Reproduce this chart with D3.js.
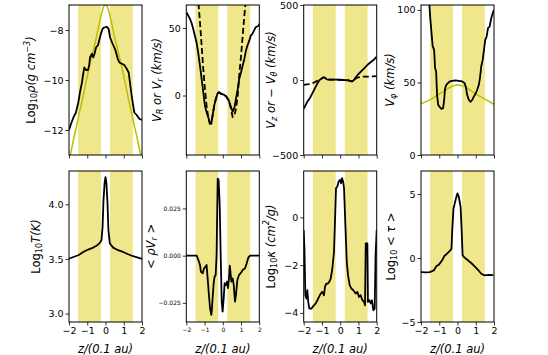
<!DOCTYPE html>
<html>
<head>
<meta charset="utf-8">
<script src="https://cdn.jsdelivr.net/npm/d3@7"></script>
<style>
  body { margin: 0; background: #fff; }
  svg { display: block; font-family: "DejaVu Sans", sans-serif; }
</style>
</head>
<body>
<div id="chart"></div>
<script>
// ---- data: [z in 0.1 au, value] ----
const zTicks = [-2, -1, 0, 1, 2];
const bands  = [[-1.5, -0.25], [0.25, 1.5]];

const rhoModel = [[-2.0,-13.25],[-1.9,-12.9],[-1.8,-12.55],[-1.7,-12.2],[-1.6,-11.9],[-1.5,-11.55],[-1.4,-11.2],
  [-1.3,-10.9],[-1.2,-10.55],[-1.1,-10.2],[-1.0,-9.85],[-0.9,-9.5],[-0.8,-9.2],[-0.7,-8.9],[-0.6,-8.6],[-0.5,-8.3],
  [-0.4,-7.95],[-0.3,-7.6],[-0.2,-7.3],[-0.1,-7.05],[0.0,-7.0],[0.1,-7.05],[0.2,-7.3],[0.3,-7.6],[0.4,-7.95],
  [0.5,-8.3],[0.6,-8.6],[0.7,-8.9],[0.8,-9.2],[0.9,-9.5],[1.0,-9.85],[1.1,-10.2],[1.2,-10.55],[1.3,-10.9],
  [1.4,-11.2],[1.5,-11.55],[1.6,-11.9],[1.7,-12.2],[1.8,-12.55],[1.9,-12.9],[2.0,-13.25]];
const rho = [[-2,-12.0],[-1.91,-11.8],[-1.76,-11.5],[-1.62,-11.3],[-1.49,-10.9],[-1.4,-10.5],[-1.29,-10.1],
  [-1.22,-9.75],[-1.16,-9.5],[-1.07,-9.6],[-0.96,-9.6],[-0.89,-9.4],[-0.85,-9.1],[-0.74,-8.95],[-0.67,-9.1],
  [-0.6,-8.95],[-0.52,-8.7],[-0.41,-8.6],[-0.34,-8.4],[-0.25,-8.15],[-0.16,-7.95],[-0.07,-7.9],[0.06,-7.87],
  [0.17,-7.95],[0.25,-8.3],[0.39,-8.55],[0.54,-8.8],[0.67,-9.15],[0.76,-9.3],[0.9,-9.35],[1.03,-9.4],
  [1.16,-9.55],[1.27,-9.7],[1.34,-10.1],[1.42,-10.55],[1.49,-10.9],[1.58,-11.3],[1.71,-11.4],[1.85,-11.55],[2.0,-11.6]];

const vR = [[-2,61.6],[-1.91,59.6],[-1.8,56.7],[-1.71,53.7],[-1.62,49.3],[-1.53,44.3],[-1.44,39.4],[-1.35,32],
  [-1.25,22],[-1.16,12.3],[-1.07,2.5],[-0.98,-7.4],[-0.89,-12.3],[-0.8,-16],[-0.71,-19.7],[-0.63,-21],
  [-0.56,-14.8],[-0.47,-7.4],[-0.38,-2.5],[-0.3,1.2],[-0.21,2.5],[-0.08,1.2],[0.04,0.7],[0.18,-0.5],
  [0.33,-3.7],[0.45,-8.6],[0.54,-11.8],[0.63,-9.4],[0.72,-2.5],[0.82,4.9],[0.9,12.3],[1.0,17.2],[1.09,22.2],
  [1.18,27.1],[1.27,33.3],[1.35,37],[1.45,40.6],[1.53,44.3],[1.62,45.6],[1.71,48],[1.8,50.5],[1.96,51.7],[2.0,53]];
const vr = [[-1.36,75],[-1.33,67.7],[-1.25,54],[-1.16,37],[-1.07,19.7],[-0.98,4.9],[-0.89,-7.4],[-0.8,-16],
  [-0.71,-21],[-0.62,-19.7],[-0.56,-14.8],[-0.47,-7.4],[-0.38,-2.5],[-0.3,1.2],[-0.21,2.5],[-0.08,1.2],
  [0.04,0.7],[0.18,-0.5],[0.33,-3.7],[0.45,-9.9],[0.54,-16],[0.63,-14.8],[0.72,-9.9],[0.82,0],[0.9,14.8],
  [1.0,29.6],[1.09,44.3],[1.18,59],[1.24,67.7],[1.27,75]];

const vz = [[-2,-193],[-1.82,-149],[-1.64,-116],[-1.45,-71],[-1.27,-27],[-1.13,0],[-1.0,11],[-0.91,18],
  [-0.82,13],[-0.73,4],[-0.55,2],[-0.18,2],[0.18,0],[0.45,-2],[0.64,-9],[0.73,-4],[0.82,13],[1.0,40],
  [1.27,73],[1.55,107],[1.82,133],[2.0,156]];
const vTheta = [[-2,-33],[-1.73,-27],[-1.45,-18],[-1.24,-4],[-1.09,2],[-1.0,11],[-0.91,18],[-0.82,13],
  [-0.73,4],[-0.55,2],[-0.18,2],[0.18,0],[0.45,-2],[0.64,-9],[0.73,-4],[0.85,10],[1.0,18],[1.2,22],
  [1.5,22],[1.8,24],[2.0,26]];

const vPhi = [[-1.56,110],[-1.54,103.4],[-1.49,94],[-1.43,85],[-1.36,75],[-1.28,72.5],[-1.23,60],[-1.17,57.6],
  [-1.12,41.5],[-1.06,34.6],[-0.97,33],[-0.88,31.7],[-0.79,32.3],[-0.73,38],[-0.68,46],[-0.61,48.4],
  [-0.53,49.5],[-0.42,50.7],[-0.29,51.1],[-0.11,51.4],[0.07,51.1],[0.26,50.7],[0.39,49.5],[0.46,46.8],
  [0.53,41.5],[0.62,38],[0.72,36.7],[0.81,38],[0.9,40.4],[0.99,42.2],[1.08,45],[1.17,48.4],[1.23,53],
  [1.3,61],[1.38,65.6],[1.45,72.5],[1.52,79.4],[1.6,81.7],[1.67,87.4],[1.76,88.5],[1.85,94.3],[1.96,98.9],[2.0,100]];
const vKep = [[-2,35.3],[-1.5,38],[-1.0,42],[-0.5,46],[-0.25,47.6],[0,48.4],[0.25,47.8],[0.5,46.5],
  [1.0,42],[1.5,38.5],[2.0,35]];

const logT = [[-2,3.503],[-1.76,3.518],[-1.49,3.534],[-1.22,3.564],[-0.95,3.586],[-0.67,3.604],[-0.45,3.626],
  [-0.31,3.647],[-0.22,3.672],[-0.16,3.794],[-0.11,4.04],[-0.05,4.193],[0,4.248],[0.05,4.193],[0.11,4.01],
  [0.16,3.764],[0.24,3.641],[0.42,3.604],[0.69,3.58],[0.96,3.564],[1.24,3.543],[1.51,3.525],[1.78,3.512],[2.0,3.5]];

const rhoVr = [[-2,0],[-1.43,0],[-1.34,-0.0023],[-1.25,-0.0049],[-1.2,-0.0085],[-1.1,-0.0093],[-1.03,-0.0067],
  [-0.94,-0.0058],[-0.89,-0.0049],[-0.83,-0.012],[-0.76,-0.0208],[-0.7,-0.0278],[-0.63,-0.0313],[-0.6,-0.0287],
  [-0.56,-0.0225],[-0.5,-0.0146],[-0.45,-0.0111],[-0.39,-0.0102],[-0.34,0.0004],[-0.28,0.0408],[-0.23,0.04],
  [-0.17,0.0268],[-0.12,0.0021],[-0.06,-0.0243],[-0.01,-0.0296],[0.05,-0.0225],[0.1,-0.0146],[0.17,-0.0155],
  [0.23,-0.0137],[0.28,-0.0172],[0.34,-0.012],[0.38,-0.0053],[0.41,-0.0076],[0.47,-0.0137],[0.54,-0.012],
  [0.6,-0.0155],[0.67,-0.0243],[0.72,-0.0208],[0.8,-0.0128],[0.89,-0.0102],[0.98,-0.0093],[1.09,-0.0076],
  [1.22,-0.0067],[1.31,-0.004],[1.4,-0.001],[1.49,0],[2,0]];

const logKappa = [[-2,-0.53],[-1.96,-1.3],[-1.91,-3.26],[-1.85,-3.4],[-1.8,-3.05],[-1.75,-3.54],[-1.69,-3.82],
  [-1.58,-3.82],[-1.44,-3.68],[-1.34,-3.6],[-1.25,-3.47],[-1.16,-3.33],[-1.07,-3.19],[-0.98,-3.12],[-0.89,-3.26],
  [-0.83,-2.9],[-0.76,-2.77],[-0.67,-2.77],[-0.6,-2.7],[-0.52,-2.56],[-0.43,-2.14],[-0.34,-1.44],[-0.28,-0.04],
  [-0.23,1.22],[-0.16,1.29],[-0.08,1.5],[-0.01,1.57],[0.05,1.43],[0.1,1.64],[0.16,1.5],[0.21,1.22],[0.27,-0.04],
  [0.36,-1.86],[0.43,-2.42],[0.52,-2.84],[0.61,-2.98],[0.72,-3.05],[0.85,-3.19],[0.94,-3.12],[1.03,-3.33],
  [1.12,-3.26],[1.22,-3.47],[1.31,-3.54],[1.36,-3.68],[1.4,-1.09],[1.49,-1.09],[1.52,-3.54],[1.6,-3.47],
  [1.67,-3.6],[1.74,-3.47],[1.82,-3.89],[1.89,-3.82],[1.94,-1.58],[2,-0.53]];

const logTau = [[-2,-1.1],[-1.76,-1.13],[-1.52,-1.1],[-1.3,-0.97],[-1.16,-0.65],[-1.01,-0.5],[-0.84,-0.18],
  [-0.72,0.16],[-0.57,0.34],[-0.42,0.55],[-0.33,0.73],[-0.28,2.43],[-0.22,3.87],[-0.15,4.27],[-0.07,4.74],
  [0,5.05],[0.07,4.79],[0.17,4.0],[0.22,2.43],[0.28,0.21],[0.39,0.03],[0.57,-0.18],[0.75,-0.39],[0.94,-0.65],
  [1.12,-0.92],[1.3,-1.23],[1.49,-1.36],[1.72,-1.31],[1.96,-1.34]];

const rhoTicks   = [-12, -10, -8];
const vRTicks    = [0, 50];
const vzTicks    = [-500, 0, 500];
const vPhiTicks  = [0, 50, 100];
const tTicks     = [3.0, 3.5, 4.0];
const fluxTicks  = [-0.025, 0, 0.025];
const kappaTicks = [-4, -2, 0];
const tauTicks   = [-5, 0, 5];

// ---- layout ----
const W = 548, H = 355;
const colX = [69, 186.3, 303.7, 421];
const pw = 73;
const rows = [[5, 155], [171, 322]];
const olive = '#bfbf00';
const khaki = '#f0e68c';
const tickFont = 9.5, labelFont = 11.5;

const panels = [
  {r:0, c:0, y:[-13,-7], ticks:rhoTicks, fmt:d3.format('d'), lx:38,
   series:[{d:rhoModel, col:olive, w:1.5}, {d:rho, col:'#000', w:1.8}],
   label:[['Log',0],['10',0,'sub'],['ρ(g cm',1],['−3',1,'sup'],[')',1]]},
  {r:0, c:1, y:[-44,67], ticks:vRTicks, fmt:d3.format('d'), lx:29,
   series:[{d:vR, col:'#000', w:1.8}, {d:vr, col:'#000', w:1.8, dash:'6,3'}],
   label:[['V',1],['R',1,'sub'],[' or V',1],['r',1,'sub'],[' (km/s)',1]]},
  {r:0, c:2, y:[-500,500], ticks:vzTicks, fmt:d3.format('d'), lx:33,
   series:[{d:vz, col:'#000', w:1.8}, {d:vTheta, col:'#000', w:1.8, dash:'6,3'}],
   label:[['V',1],['z',1,'sub'],[' or − V',1],['θ',1,'sub'],[' (km/s)',1]]},
  {r:0, c:3, y:[0,103.4], ticks:vPhiTicks, fmt:d3.format('d'), lx:31,
   series:[{d:vKep, col:olive, w:1.5}, {d:vPhi, col:'#000', w:1.8}],
   label:[['V',1],['φ',1,'sub'],[' (km/s)',1]]},
  {r:1, c:0, y:[2.923,4.305], ticks:tTicks, fmt:d3.format('.1f'), lx:33,
   series:[{d:logT, col:'#000', w:1.8}],
   label:[['Log',0],['10',0,'sub'],['T(K)',1]]},
  {r:1, c:1, y:[-0.0351,0.0448], ticks:fluxTicks, fmt:d3.format('.3f'), lx:35, small:true,
   series:[{d:rhoVr, col:'#000', w:1.8}],
   label:[['< ρV',1],['r',1,'sub'],[' >',1]]},
  {r:1, c:2, y:[-4.38,1.94], ticks:kappaTicks, fmt:d3.format('d'), lx:33,
   series:[{d:logKappa, col:'#000', w:1.8}],
   label:[['Log',0],['10',0,'sub'],['κ (cm',1],['2',1,'sup'],['/g)',1]]},
  {r:1, c:3, y:[-5,6.8], ticks:tauTicks, fmt:d3.format('d'), lx:30,
   series:[{d:logTau, col:'#000', w:1.8}],
   label:[['Log',0],['10',0,'sub'],[' < τ >',1]]}
];

const svg = d3.select('#chart').append('svg')
  .attr('width', W).attr('height', H);

// writes mathtext-like pieces as tspans
function richText(sel, parts, size) {
  let shift = 0;
  parts.forEach(function(p) {
    let target = p[2] === 'sub' ? 3 : p[2] === 'sup' ? -4.5 : 0;
    sel.append('tspan')
      .attr('dy', target - shift)
      .attr('font-size', p[2] ? size * 0.7 : size)
      .attr('font-style', p[1] ? 'italic' : 'normal')
      .text(p[0]);
    shift = target;
  });
}

const line = d3.line().x(d => d[0]).y(d => d[1]);

panels.forEach(function(p, i) {
  const x0 = colX[p.c], y0 = rows[p.r][0], y1 = rows[p.r][1];
  const x = d3.scaleLinear().domain([-2, 2]).range([x0, x0 + pw]);
  const y = d3.scaleLinear().domain(p.y).range([y1, y0]);
  const fs = p.small ? 6 : tickFont;
  const g = svg.append('g');

  g.append('clipPath').attr('id', 'clip' + i)
    .append('rect').attr('x', x0).attr('y', y0).attr('width', pw).attr('height', y1 - y0);

  g.selectAll('rect.band').data(bands).enter().append('rect')
    .attr('class', 'band')
    .attr('x', d => x(d[0])).attr('width', d => x(d[1]) - x(d[0]))
    .attr('y', y0).attr('height', y1 - y0)
    .attr('fill', khaki);

  p.series.forEach(function(s) {
    g.append('path')
      .attr('clip-path', 'url(#clip' + i + ')')
      .attr('d', line(s.d.map(d => [x(d[0]), y(d[1])])))
      .attr('fill', 'none')
      .attr('stroke', s.col)
      .attr('stroke-width', s.w)
      .attr('stroke-dasharray', s.dash || null)
      .attr('stroke-linejoin', 'round');
  });

  const xAxis = d3.axisBottom(x).tickValues(zTicks).tickFormat(d3.format('d'))
    .tickSizeInner(3.5).tickSizeOuter(0).tickPadding(2);
  if (p.r === 0) xAxis.tickFormat('');
  const gx = g.append('g').attr('transform', 'translate(0,' + y1 + ')').call(xAxis);
  const gy = g.append('g').attr('transform', 'translate(' + x0 + ',0)')
    .call(d3.axisLeft(y).tickValues(p.ticks).tickFormat(p.fmt).tickSizeInner(3.5).tickSizeOuter(0).tickPadding(2));
  [gx, gy].forEach(function(a) {
    a.select('.domain').remove();
    a.selectAll('line').attr('stroke', '#000').attr('stroke-width', 0.8);
    a.selectAll('text').attr('font-size', fs).attr('fill', '#000').attr('font-family', '"DejaVu Sans"');
  });

  g.append('rect').attr('x', x0).attr('y', y0).attr('width', pw).attr('height', y1 - y0)
    .attr('fill', 'none').attr('stroke', '#000').attr('stroke-width', 1);

  const lt = g.append('text')
    .attr('transform', 'translate(' + (x0 - p.lx) + ',' + ((y0 + y1) / 2) + ') rotate(-90)')
    .attr('text-anchor', 'middle')
    .attr('dominant-baseline', 'middle');
  richText(lt, p.label, labelFont);

  if (p.r === 1) {
    g.append('text')
      .attr('x', x0 + pw / 2).attr('y', 353)
      .attr('text-anchor', 'middle')
      .attr('font-size', labelFont)
      .attr('font-style', 'italic')
      .text('z/(0.1 au)');
  }
});
</script>
</body>
</html>
